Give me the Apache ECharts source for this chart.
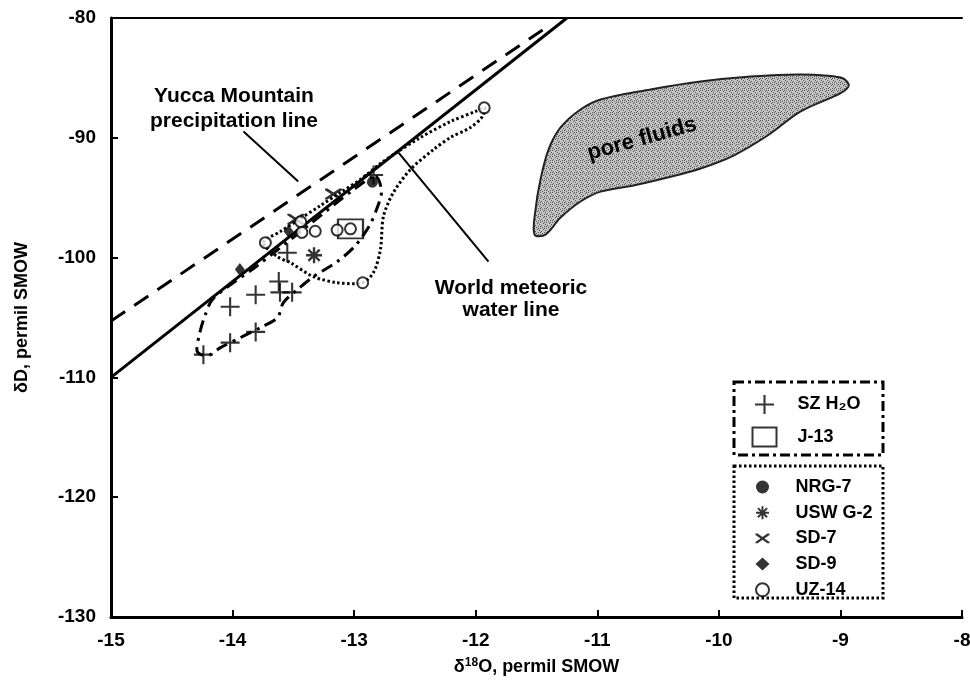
<!DOCTYPE html>
<html><head><meta charset="utf-8">
<script src="https://cdn.jsdelivr.net/npm/echarts@6/dist/echarts.min.js"></script>
<style>html,body{margin:0;padding:0;background:#fff}#c{width:970px;height:685px}</style>
</head><body><div id="c"></div>
<script>
// ---- axis ticks ----
const xTicks = [-15,-14,-13,-12,-11,-10,-9,-8];
const yTicks = [-130,-120,-110,-100,-90,-80];

// ---- point data (δ18O, δD) ----
const szH2O = [[-12.84,-93.1],[-13.55,-99.6],[-13.62,-102.0],[-13.61,-102.9],[-13.51,-102.9],
  [-13.81,-103.1],[-14.02,-104.1],[-13.81,-106.2],[-14.02,-107.1],[-14.24,-108.1]];
const j13 = [[-13.03,-97.6]];
const nrg7 = [[-12.85,-93.7]];
const uswG2 = [[-13.33,-99.8]];
const sd7 = [[-13.17,-94.7],[-13.48,-96.8]];
const sd9 = [[-13.54,-97.8],[-13.94,-101.0]];
const uz14 = [[-13.44,-97.0],[-13.43,-97.9],[-13.32,-97.8],[-13.14,-97.7],[-13.03,-97.6],
  [-13.73,-98.75],[-12.93,-102.1],[-11.93,-87.5]];

// ---- lines ----
const wmwl = [[-15,-110],[-11.25,-80]];
const ympl = [[-15,-105.3],[-11.45,-81]];
const yuccaLeader = [[-13.91,-89.47],[-13.46,-93.65]];
const worldLeader = [[-12.635,-91.23],[-11.895,-100.33]];

// ---- envelopes ----
const szEnvelope = [[-12.825,-93.23],[-12.775,-94.49],[-12.816,-95.99],[-12.874,-97.33],[-12.99,-99.0],
  [-13.138,-100.33],[-13.335,-101.59],[-13.467,-102.67],[-13.582,-103.76],[-13.631,-105.01],
  [-13.771,-105.85],[-13.936,-106.68],[-14.10,-107.52],[-14.207,-108.19],[-14.29,-107.85],
  [-14.273,-106.43],[-14.224,-104.76],[-14.158,-103.4],[-13.8,-100.7],[-13.4,-97.5],[-13.0,-94.3]];
const uzEnvelope = [[-13.746,-98.75],[-13.607,-97.83],[-13.467,-96.91],[-13.277,-95.66],[-13.113,-94.57],
  [-12.948,-93.48],[-12.784,-92.15],[-12.677,-91.40],[-12.454,-89.97],[-12.207,-88.64],[-12.002,-87.80],
  [-11.928,-87.47],[-11.944,-88.22],[-12.043,-89.14],[-12.207,-89.97],[-12.347,-90.98],[-12.537,-92.65],
  [-12.677,-94.57],[-12.759,-96.57],[-12.784,-99.33],[-12.841,-101.25],[-12.932,-102.09],[-13.138,-102.09],
  [-13.335,-101.59],[-13.525,-100.42],[-13.631,-99.92]];
const poreFluids = [[-11.516,-98.08],[-11.508,-95.99],[-11.467,-93.48],[-11.401,-90.98],[-11.302,-89.14],
  [-11.138,-87.64],[-10.973,-86.80],[-10.562,-85.96],[-10.150,-85.30],[-9.738,-84.88],[-9.327,-84.71],
  [-8.998,-84.96],[-8.932,-85.55],[-8.965,-86.05],[-9.055,-86.55],[-9.327,-87.80],[-9.599,-89.81],
  [-9.879,-91.48],[-10.150,-92.56],[-10.422,-93.32],[-10.702,-93.98],[-10.973,-94.49],[-11.138,-95.32],
  [-11.302,-96.66],[-11.426,-98.08]];

// ---- symbols ----
const plusPath = 'path://M-1.1,-10H1.1V-1.1H10V1.1H1.1V10H-1.1V1.1H-10V-1.1H-1.1Z';
const starPath = 'path://M-10,-1.5L10,-1.5L10,1.5L-10,1.5Z M-1.5,-10L1.5,-10L1.5,10L-1.5,10Z ' +
  'M-6.01,-8.13L8.13,6.01L6.01,8.13L-8.13,-6.01Z M6.01,-8.13L8.13,-6.01L-6.01,8.13L-8.13,6.01Z';
const sd7Path = 'path://M-10,-7L-7,-7L10,5L10,7L7,7L-10,-5Z M10,-5L-7,7L-10,7L-10,5L7,-7L10,-7Z';

// stipple pattern
const pc = document.createElement('canvas'); pc.width = 6; pc.height = 6;
const pctx = pc.getContext('2d');
pctx.fillStyle = '#c4c4c4'; pctx.fillRect(0,0,6,6);
pctx.fillStyle = '#555';
[[0,0],[3,1],[1,3],[4,4],[2,5],[5,2],[0,4],[4,0]].forEach(p => pctx.fillRect(p[0],p[1],1,1));

function polySeries(data, style, smooth) {
  return {
    type: 'custom', data: data, silent: true, z: 3,
    renderItem: function (params, api) {
      if (params.dataIndex !== 0) return null;
      return { type: 'polygon', shape: { points: data.map(p => api.coord(p)), smooth: smooth }, style: style };
    }
  };
}
function lineSeries(data, lineStyle) {
  return { type: 'line', data: data, symbol: 'none', silent: true, z: 4, lineStyle: lineStyle, animation: false };
}

const FONT = '"Liberation Sans", Arial, sans-serif';
const chart = echarts.init(document.getElementById('c'));
chart.setOption({
  animation: false,
  backgroundColor: '#fff',
  grid: { left: 111, right: 8, top: 18, bottom: 68, containLabel: false, outerBoundsMode: 'none' },
  xAxis: [{
    type: 'value', min: xTicks[0], max: xTicks[xTicks.length - 1], interval: 1,
    axisLine: { onZero: false, lineStyle: { color: '#000', width: 3 } },
    axisTick: { inside: true, length: 7, lineStyle: { color: '#000', width: 2 } },
    axisLabel: { showMaxLabel: true, showMinLabel: true, margin: 14, color: '#000', fontSize: 19, fontWeight: 'bold', fontFamily: FONT },
    splitLine: { show: false },
    name: 'δ{sup|18}O, permil SMOW', nameLocation: 'middle', nameGap: 40,
    nameTextStyle: { color: '#000', fontSize: 18, fontWeight: 'bold', fontFamily: FONT,
      rich: { sup: { fontSize: 12, fontWeight: 'bold', fontFamily: FONT, padding: [0, 0, 9, 0] } } }
  }, {
    type: 'value', position: 'top', min: xTicks[0], max: xTicks[xTicks.length - 1],
    axisLine: { onZero: false, lineStyle: { color: '#000', width: 2 } },
    axisTick: { show: false }, axisLabel: { show: false }, splitLine: { show: false }
  }],
  yAxis: {
    type: 'value', min: yTicks[0], max: yTicks[yTicks.length - 1], interval: 10,
    axisLine: { onZero: false, lineStyle: { color: '#000', width: 3 } },
    axisTick: { inside: true, length: 7, lineStyle: { color: '#000', width: 2 } },
    axisLabel: { margin: 15, color: '#000', fontSize: 19, fontWeight: 'bold', fontFamily: FONT },
    splitLine: { show: false },
    name: 'δD, permil SMOW', nameLocation: 'middle', nameGap: 80, nameRotate: 90,
    nameTextStyle: { color: '#000', fontSize: 18, fontWeight: 'bold', fontFamily: FONT }
  },
  legend: [{
    orient: 'vertical', left: 745, top: 390, itemWidth: 24, itemHeight: 19, itemGap: 11,
    selectedMode: false,
    textStyle: { fontSize: 18, fontWeight: 'bold', color: '#000', fontFamily: FONT, padding: [0, 0, 0, 16] },
    data: [{ name: 'SZ H₂O', icon: plusPath }, { name: 'J-13', icon: 'rect' }]
  }, {
    orient: 'vertical', left: 750, top: 473, itemWidth: 14, itemHeight: 13, itemGap: 7.7,
    selectedMode: false,
    textStyle: { fontSize: 18, fontWeight: 'bold', color: '#000', fontFamily: FONT, lineHeight: 18, padding: [0, 0, 0, 21] },
    data: [{ name: 'NRG-7', icon: 'circle' }, { name: 'USW G-2', icon: starPath },
      { name: 'SD-7', icon: sd7Path }, { name: 'SD-9', icon: 'diamond' }, { name: 'UZ-14', icon: 'circle' }]
  }],
  graphic: [
    { type: 'rect', shape: { x: 734, y: 382, width: 149, height: 73 }, z: 10,
      style: { fill: 'none', stroke: '#000', lineWidth: 3, lineDash: [10, 4, 3, 4] } },
    { type: 'rect', shape: { x: 734, y: 466, width: 149, height: 132 }, z: 10,
      style: { fill: 'none', stroke: '#000', lineWidth: 3, lineDash: [2.5, 2.5] } },
    { type: 'text', x: 234, y: 96, z: 10, style: { text: 'Yucca Mountain', font: 'bold 21px ' + FONT, fill: '#000', align: 'center', verticalAlign: 'middle' } },
    { type: 'text', x: 234, y: 121, z: 10, style: { text: 'precipitation line', font: 'bold 21px ' + FONT, fill: '#000', align: 'center', verticalAlign: 'middle' } },
    { type: 'text', x: 511, y: 288, z: 10, style: { text: 'World meteoric', font: 'bold 21px ' + FONT, fill: '#000', align: 'center', verticalAlign: 'middle' } },
    { type: 'text', x: 511, y: 310, z: 10, style: { text: 'water line', font: 'bold 21px ' + FONT, fill: '#000', align: 'center', verticalAlign: 'middle' } },
    { type: 'text', x: 642, y: 139, z: 10, rotation: 15.5 * Math.PI / 180,
      style: { text: 'pore fluids', font: 'bold 22px ' + FONT, fill: '#000', align: 'center', verticalAlign: 'middle' } }
  ],
  series: [
    polySeries(poreFluids, { fill: { image: pc, repeat: 'repeat' }, stroke: '#222', lineWidth: 2 }, 0.35),
    lineSeries(wmwl, { color: '#000', width: 3, type: 'solid' }),
    lineSeries(ympl, { color: '#000', width: 3, type: [17, 11] }),
    lineSeries(yuccaLeader, { color: '#000', width: 2, type: 'solid' }),
    lineSeries(worldLeader, { color: '#000', width: 2, type: 'solid' }),
    polySeries(szEnvelope, { fill: 'none', stroke: '#000', lineWidth: 3, lineDash: [12, 6, 3, 6] }, 0.3),
    polySeries(uzEnvelope, { fill: 'none', stroke: '#000', lineWidth: 3, lineDash: [2.5, 2.5] }, 0.3),
    { name: 'SZ H₂O', type: 'scatter', data: szH2O, symbol: plusPath, symbolSize: 19, z: 6,
      itemStyle: { color: '#000' } },
    { name: 'J-13', type: 'scatter', data: j13, symbol: 'rect', symbolSize: [25, 19], z: 6,
      itemStyle: { color: 'none', borderColor: '#000', borderWidth: 2 } },
    { name: 'NRG-7', type: 'scatter', data: nrg7, symbol: 'circle', symbolSize: 11, z: 6,
      itemStyle: { color: '#000' } },
    { name: 'USW G-2', type: 'scatter', data: uswG2, symbol: starPath, symbolSize: 16, z: 6,
      itemStyle: { color: '#000' } },
    { name: 'SD-7', type: 'scatter', data: sd7, symbol: sd7Path, symbolSize: [17, 11], z: 6,
      itemStyle: { color: '#000' } },
    { name: 'SD-9', type: 'scatter', data: sd9, symbol: 'diamond', symbolSize: [10, 13], z: 6,
      itemStyle: { color: '#000' } },
    { name: 'UZ-14', type: 'scatter', data: uz14, symbol: 'circle', symbolSize: 11, z: 6,
      itemStyle: { color: '#fff', borderColor: '#000', borderWidth: 2 } }
  ]
});
</script></body></html>
